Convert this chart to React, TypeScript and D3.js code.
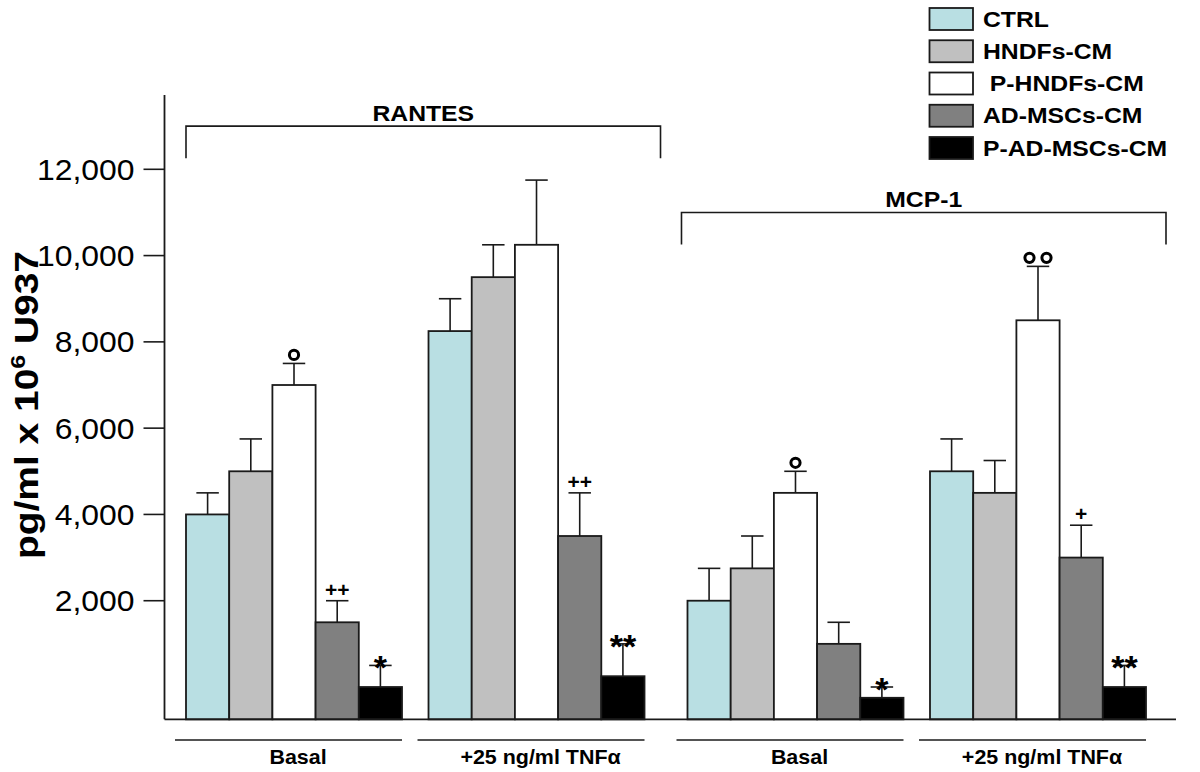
import React from "react";
import * as d3 from "d3";

// ---------- data ----------
const seriesNames = ["CTRL", "HNDFs-CM", "P-HNDFs-CM", "AD-MSCs-CM", "P-AD-MSCs-CM"];
const seriesColors = ["#b9dfe3", "#c0c0c0", "#ffffff", "#808080", "#000000"];
const panels = ["RANTES", "MCP-1"];
const conditions = ["Basal", "+25 ng/ml TNFα"];

const rantesBasal = [4000, 5000, 7000, 1500, 0];
const rantesTnf = [8250, 9500, 10250, 3500, 250];
const mcpBasal = [2000, 2750, 4500, 1000, -250];
const mcpTnf = [5000, 4500, 8500, 3000, 0];

const rantesBasalErr = [500, 750, 500, 500, 500];
const rantesTnfErr = [750, 750, 1500, 1000, 750];
const mcpBasalErr = [750, 750, 500, 500, 250];
const mcpTnfErr = [750, 750, 1250, 750, 500];

const rantesBasalSig = ["", "", "o", "++", "*"];
const rantesTnfSig = ["", "", "", "++", "**"];
const mcpBasalSig = ["", "", "o", "", "*"];
const mcpTnfSig = ["", "", "oo", "+", "**"];

const yTicks = [2000, 4000, 6000, 8000, 10000, 12000];
const yBottom = -750;
const yTop = 13720;
const bracketLevels = [13000, 11000];

const groups = [
  { panel: "RANTES", cond: "Basal", values: rantesBasal, errs: rantesBasalErr, sig: rantesBasalSig },
  { panel: "RANTES", cond: "+25 ng/ml TNFα", values: rantesTnf, errs: rantesTnfErr, sig: rantesTnfSig },
  { panel: "MCP-1", cond: "Basal", values: mcpBasal, errs: mcpBasalErr, sig: mcpBasalSig },
  { panel: "MCP-1", cond: "+25 ng/ml TNFα", values: mcpTnf, errs: mcpTnfErr, sig: mcpTnfSig },
];

const FONT = "'Liberation Sans', Arial, Helvetica, sans-serif";
const SX = 1.1;
const INK = "#1a1a1a";

function T(props: any) {
  const { x, y, size, weight = "normal", anchor = "start", children, sx = SX } = props;
  return (
    <text
      transform={`translate(${x},${y}) scale(${sx},1)`}
      fontFamily={FONT}
      fontSize={size}
      fontWeight={weight}
      textAnchor={anchor}
      fill="#000"
    >
      {children}
    </text>
  );
}

export default function App() {
  const W = 1200;
  const H = 772;

  const y = d3.scaleLinear().domain([0, 12000]).range([687, 169.3]);
  const axisX = 164.5;
  const baseY = y(yBottom);

  const panelScale = d3.scaleBand().domain(panels).range([186, 1146]).paddingInner(0.0857);
  const condScale = d3.scaleBand().domain(conditions).range([0, panelScale.bandwidth()]).paddingInner(0.1093);
  const barScale = d3.scaleBand().domain(seriesNames).range([0, condScale.bandwidth()]);
  const bw = barScale.bandwidth();
  const capW = bw * 0.52;

  const groupX = (g: any) => (panelScale(g.panel) as number) + (condScale(g.cond) as number);

  const legendY = d3.scalePoint().domain(seriesNames).range([8, 137]);
  const fmt = d3.format(",");

  return (
    <div style={{ width: W, height: H }}>
      <style>{`body{margin:0;}`}</style>
      <svg width={W} height={H} style={{ display: "block" }}>
        <rect width={W} height={H} fill="#fff" />

        {/* bars */}
        {groups.map((g, gi) => {
          const gx = groupX(g);
          return (
            <g key={gi}>
              {g.values.map((v, i) => {
                const bx = gx + (barScale(seriesNames[i]) as number);
                const top = y(v);
                const errTop = y(v + g.errs[i]);
                const cx = bx + bw / 2;
                const s = g.sig[i];
                return (
                  <g key={i}>
                    <line x1={cx} x2={cx} y1={top} y2={errTop} stroke={INK} strokeWidth={1.6} />
                    <line x1={cx - capW / 2} x2={cx + capW / 2} y1={errTop} y2={errTop} stroke={INK} strokeWidth={1.6} />
                    <rect x={bx} y={top} width={bw} height={baseY - top} fill={seriesColors[i]} stroke={INK} strokeWidth={1.8} />
                    {s.startsWith("o") &&
                      s.split("").map((_, k, arr) => (
                        <circle
                          key={k}
                          cx={cx + (k - (arr.length - 1) / 2) * 17}
                          cy={errTop - 8.5}
                          r={4.6}
                          fill="none"
                          stroke="#000"
                          strokeWidth={3}
                        />
                      ))}
                    {s.startsWith("+") && (
                      <T x={cx} y={errTop - 4} size={21} weight="bold" anchor="middle" sx={1.0}>
                        {s}
                      </T>
                    )}
                    {s.startsWith("*") && (
                      <T x={cx} y={errTop + 14} size={34} weight="bold" anchor="middle" sx={1.0}>
                        {s}
                      </T>
                    )}
                  </g>
                );
              })}
            </g>
          );
        })}

        {/* axes */}
        <line x1={axisX} x2={axisX} y1={y(yTop)} y2={baseY} stroke={INK} strokeWidth={1.8} />
        <line x1={axisX} x2={1176} y1={baseY} y2={baseY} stroke={INK} strokeWidth={1.8} />
        {yTicks.map((t) => (
          <g key={t}>
            <line x1={axisX - 21} x2={axisX} y1={y(t)} y2={y(t)} stroke={INK} strokeWidth={1.6} />
            <T x={axisX - 30} y={y(t) + 10.5} size={29} anchor="end">
              {fmt(t)}
            </T>
          </g>
        ))}

        {/* y title */}
        <text
          transform={`translate(38,405) rotate(-90) scale(1.18,1)`}
          fontFamily={FONT}
          fontSize={33}
          fontWeight="bold"
          textAnchor="middle"
          fill="#000"
        >
          pg/ml x 10<tspan dy={-13} fontSize={21}>6</tspan>
          <tspan dy={13}> U937</tspan>
        </text>

        {/* panel brackets */}
        {panels.map((p, pi) => {
          const x0 = panelScale(p) as number;
          const x1 = x0 + panelScale.bandwidth();
          const top = y(bracketLevels[pi]);
          const bl = x0 + (pi === 0 ? 0 : -6);
          const br = x1 + (pi === 0 ? 16 : 20);
          return (
            <g key={p}>
              <path
                d={`M${bl},${top + 32}V${top}H${br}V${top + 32}`}
                fill="none"
                stroke={INK}
                strokeWidth={1.6}
              />
              <T x={(bl + br) / 2} y={top - 5} size={22.5} weight="bold" anchor="middle">
                {p}
              </T>
            </g>
          );
        })}

        {/* condition labels */}
        {groups.map((g, gi) => {
          const gx = groupX(g);
          const gw = condScale.bandwidth();
          return (
            <g key={gi}>
              <line x1={gx - 11} x2={gx + gw} y1={740} y2={740} stroke={INK} strokeWidth={1.6} />
              <T x={gx + gw / 2 + 4} y={764} size={19.5} weight="bold" anchor="middle">
                {g.cond}
              </T>
            </g>
          );
        })}

        {/* legend */}
        {seriesNames.map((n, i) => {
          const ly = legendY(n) as number;
          return (
            <g key={n}>
              <rect x={929.5} y={ly} width={43.5} height={22} fill={seriesColors[i]} stroke={INK} strokeWidth={1.8} />
              <T x={983} y={ly + 18.5} size={22.5} weight="bold">
                {i === 2 ? "\u00a0" + n : n}
              </T>
            </g>
          );
        })}
      </svg>
    </div>
  );
}
